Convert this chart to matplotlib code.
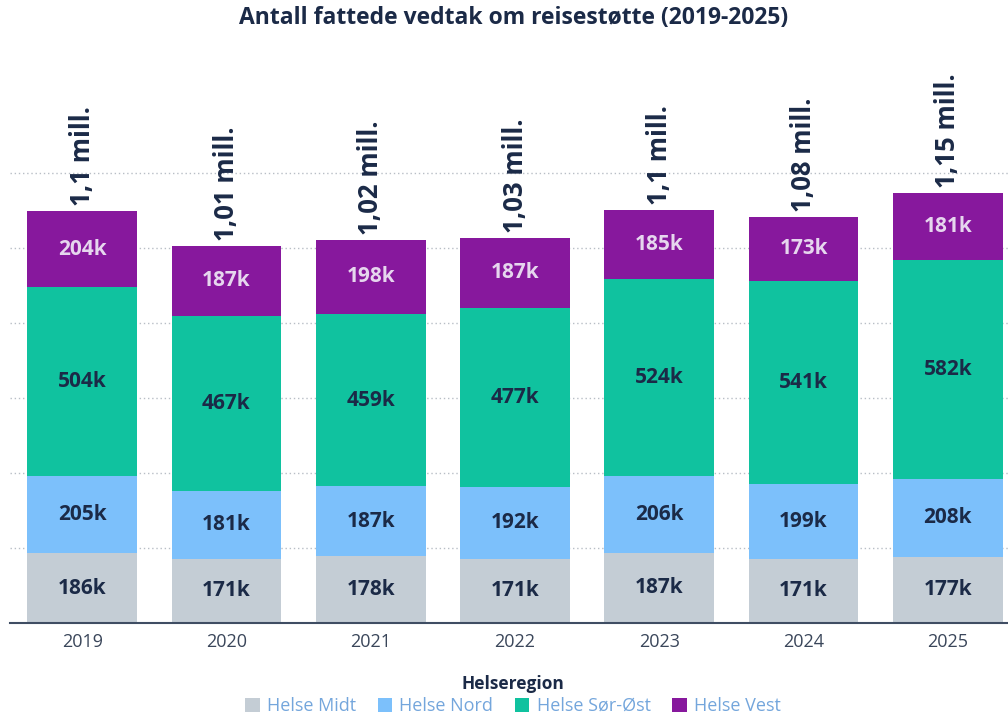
import matplotlib
matplotlib.use('Agg')
import matplotlib.pyplot as plt
import numpy as np

plt.rcParams['font.family'] = ['Open Sans', 'DejaVu Sans']

# Data (thousands)
years = ['2019', '2020', '2021', '2022', '2023', '2024', '2025']
regions = ['Helse Midt', 'Helse Nord', 'Helse Sør-Øst', 'Helse Vest']
midt = [186, 171, 178, 171, 187, 171, 177]
nord = [205, 181, 187, 192, 206, 199, 208]
sor_ost = [504, 467, 459, 477, 524, 541, 582]
vest = [204, 187, 198, 187, 185, 173, 181]
total_labels = ['1,1 mill.', '1,01 mill.', '1,02 mill.', '1,03 mill.',
                '1,1 mill.', '1,08 mill.', '1,15 mill.']

colors = ['#c4cdd5', '#7cc0fb', '#10c29f', '#87189d']
label_colors = ['#1b2a47', '#1b2a47', '#1b2a47', '#e6d6ee']
navy = '#1b2a47'

fig = plt.figure(figsize=(10.08, 7.15), dpi=100)
ax = fig.add_axes([10 / 1008, 1 - 623 / 715, 1010 / 1008, (1350 * 0.375) / 715])

x = np.arange(len(years))
width = 0.76
bottom = np.zeros(len(years))
series = [midt, nord, sor_ost, vest]
for vals, col, lcol, name in zip(series, colors, label_colors, regions):
    vals = np.array(vals, dtype=float)
    ax.bar(x, vals, width, bottom=bottom, color=col, label=name, zorder=2)
    for xi, b, v in zip(x, bottom, vals):
        ax.text(xi, b + v / 2, f'{int(v)}k', ha='center', va='center',
                fontsize=15, fontweight='bold', color=lcol, zorder=3)
    bottom += vals

for xi, tot, lab in zip(x, bottom, total_labels):
    ax.text(xi, tot + 12, lab, rotation=90, ha='center', va='bottom',
            fontsize=18.5, fontweight='bold', color=navy, clip_on=False)

ax.set_xlim(-0.5, 6.5)
ax.set_ylim(0, 1350)
ax.set_yticks([200, 400, 600, 800, 1000, 1200])
ax.yaxis.grid(True, linestyle=(0, (1, 2)), color='#b8bec6', linewidth=1, zorder=0)
ax.tick_params(axis='y', left=False, labelleft=False)
ax.set_xticks(x)
ax.set_xticklabels(years, fontsize=13, color='#3a465a')
ax.tick_params(axis='x', length=0, pad=7)
for s in ['top', 'right', 'left']:
    ax.spines[s].set_visible(False)
ax.spines['bottom'].set_color('#3f4d63')
ax.spines['bottom'].set_linewidth(1.5)
ax.spines['bottom'].set_zorder(4)

fig.text(0.509, 0.975, 'Antall fattede vedtak om reisestøtte (2019-2025)',
         ha='center', va='center', fontsize=16.5, fontweight='bold', color=navy)

leg = fig.legend(loc='upper center', bbox_to_anchor=(0.509, 0.068), ncol=4,
                 frameon=False, title='Helseregion', fontsize=13,
                 handlelength=0.8, handleheight=0.8, handletextpad=0.4,
                 columnspacing=1.2, borderpad=0, labelspacing=0.2)
leg.get_title().set_fontweight('bold')
leg.get_title().set_fontsize(12.5)
leg.get_title().set_color(navy)
for t in leg.get_texts():
    t.set_color('#74a6dc')

fig.savefig('out.png', dpi=100)
